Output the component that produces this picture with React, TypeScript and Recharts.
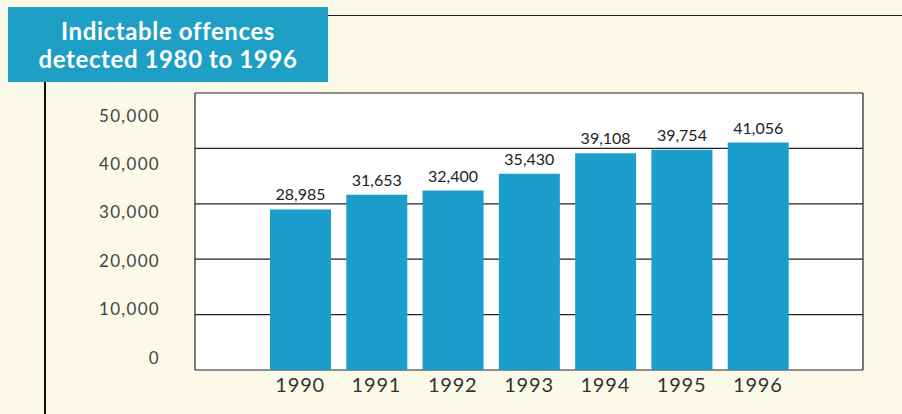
import { Bar, BarChart, CartesianGrid, LabelList, XAxis, YAxis } from "recharts";

const years = ["1990", "1991", "1992", "1993", "1994", "1995", "1996"];
const offences = [28985, 31653, 32400, 35430, 39108, 39754, 41056];
const yTicks = [0, 10000, 20000, 30000, 40000, 50000];

const data = years.map((year, i) => ({ year, value: offences[i] }));

const fmt = (v: number) => v.toLocaleString("en-US");

// the printed scale labels drift a little off the rules; mimic that
function YTick(props: any) {
  const { x, y, payload } = props;
  const dy = -13 + (payload.value / 10000) * 7;
  return (
    <text
      x={x}
      y={y + dy}
      textAnchor="end"
      dominantBaseline="central"
      fontFamily="Lato, sans-serif"
      fontSize={17}
      letterSpacing={1.3}
      fill="#444"
    >
      {fmt(payload.value)}
    </text>
  );
}

export default function App() {
  return (
    <div
      style={{
        position: "fixed",
        left: 0,
        top: 0,
        width: 902,
        height: 414,
        background: "#fbfae8",
        overflow: "hidden",
      }}
    >
      <div
        style={{
          position: "absolute",
          left: 328,
          top: 15,
          width: 574,
          height: 1,
          background: "#222",
        }}
      />
      <div
        style={{
          position: "absolute",
          left: 44,
          top: 82,
          width: 2,
          height: 332,
          background: "#111",
        }}
      />
      <div
        style={{
          position: "absolute",
          left: 8,
          top: 7,
          width: 320,
          height: 75,
          background: "#1e9fc6",
          color: "#fff",
          fontFamily: "Lato, sans-serif",
          fontWeight: 700,
          fontSize: 24,
          letterSpacing: 0.6,
          lineHeight: "28px",
          textAlign: "center",
          display: "flex",
          flexDirection: "column",
          justifyContent: "center",
        }}
      >
        <div>Indictable offences</div>
        <div>detected 1980 to 1996</div>
      </div>
      <div style={{ position: "absolute", left: 0, top: 0 }}>
        <BarChart
          width={902}
          height={414}
          data={data}
          margin={{ top: 93, right: 0, bottom: 0, left: 0 }}
        >
          <CartesianGrid
            vertical={false}
            stroke="#222"
            strokeWidth={1.2}
            fill="#ffffff"
            fillOpacity={1}
            yAxisId="left"
          />
          <XAxis
            dataKey="year"
            height={44}
            axisLine={false}
            tickLine={false}
            tickSize={0}
            tickMargin={8}
            padding={{ left: 67, right: 67 }}
            tick={{
              fontFamily: "Lato, sans-serif",
              fontSize: 20,
              letterSpacing: 0.8,
              fill: "#333",
            }}
          />
          <YAxis
            yAxisId="left"
            width={195}
            domain={[0, 50000]}
            ticks={yTicks}
            tickSize={0}
            tickMargin={35}
            tickLine={false}
            axisLine={{ stroke: "#222", strokeWidth: 1.2 }}
            tick={<YTick />}
          />
          <YAxis
            yAxisId="right"
            orientation="right"
            width={39}
            domain={[0, 50000]}
            tick={false}
            tickLine={false}
            axisLine={{ stroke: "#222", strokeWidth: 1.2 }}
          />
          <Bar
            yAxisId="left"
            dataKey="value"
            fill="#1b9ecb"
            barSize={61}
            isAnimationActive={false}
          >
            <LabelList
              dataKey="value"
              position="top"
              offset={9}
              formatter={(v: any) => fmt(Number(v))}
              style={{ fontFamily: "Lato, sans-serif", fontSize: 16, fill: "#222" }}
            />
          </Bar>
        </BarChart>
      </div>
    </div>
  );
}
